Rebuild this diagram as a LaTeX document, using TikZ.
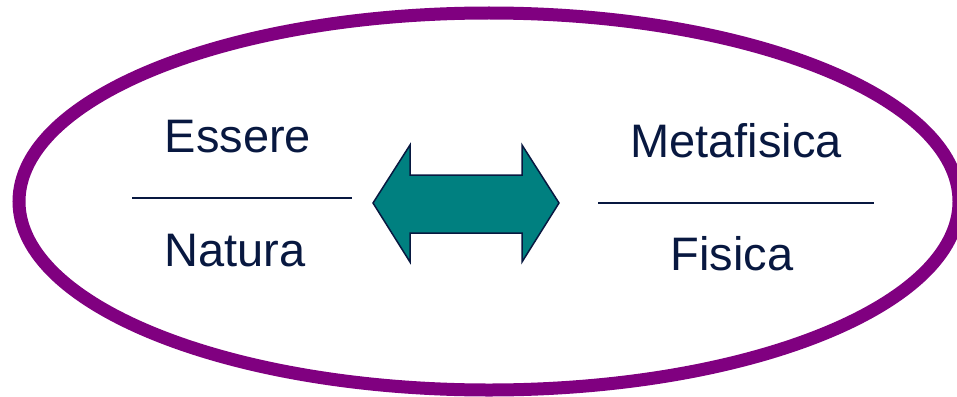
\documentclass[tikz,border=0pt]{standalone}
\usepackage{fontspec}
\setmainfont{Liberation Sans}
\definecolor{navy}{RGB}{8,24,64}
\definecolor{ringpurple}{RGB}{128,0,128}
\definecolor{tealfill}{RGB}{0,128,128}
\begin{document}
\begin{tikzpicture}[x=1pt,y=-1pt,
  word/.style={anchor=base,inner sep=0pt,text=navy,font=\fontsize{47}{56}\selectfont},
  rule/.style={draw=navy,line width=1.8pt},
  ring/.style={draw=ringpurple,line width=13pt},
  dblarrow/.style={fill=tealfill,draw=navy,line width=1.5pt,line join=miter}]
\useasboundingbox (0,0) rectangle (957,396);
\clip (0,0) rectangle (957,396);
\draw[ring] (489,201.5) ellipse [x radius=470, y radius=188.5];
\node[word] (essere) at (238,152) {Essere};
\node[word] (natura) at (235,266) {Natura};
\node[word] (meta) at (736,157) {Metafisica};
\node[word] (fisica) at (732,270) {Fisica};
\coordinate (l1) at (132,198);
\coordinate (l2) at (352,198);
\coordinate (r1) at (598,203);
\coordinate (r2) at (874,203);
\draw[rule] (l1) -- (l2);
\draw[rule] (r1) -- (r2);
\draw[dblarrow] (373,203) -- (410,145) -- (410,175) -- (522,175) -- (522,145)
  -- (559,203) -- (522,262) -- (522,233) -- (410,233) -- (410,262) -- cycle;
\end{tikzpicture}
\end{document}
